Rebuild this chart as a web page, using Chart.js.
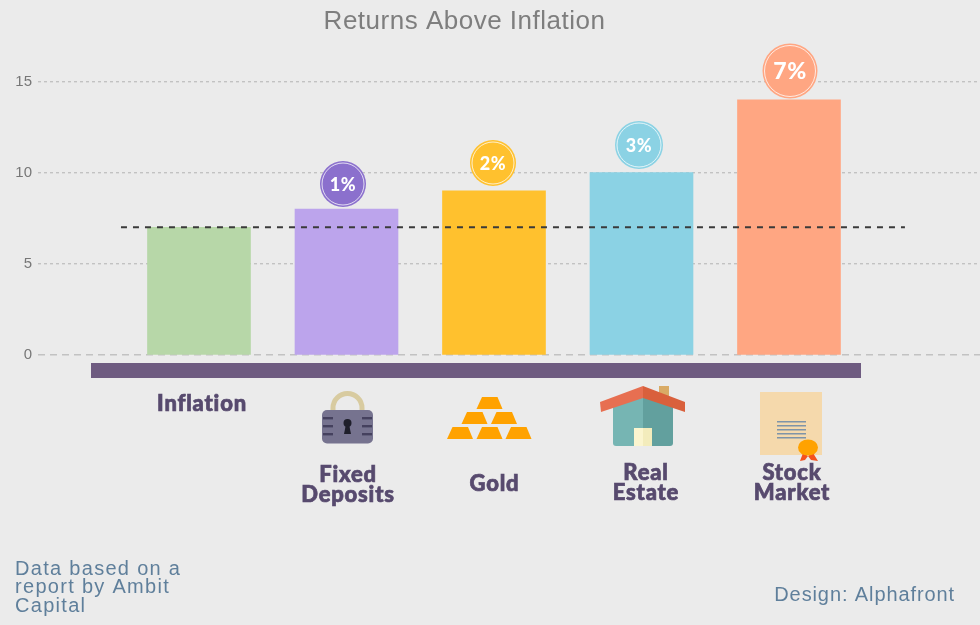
<!DOCTYPE html>
<html><head><meta charset="utf-8">
<style>html,body{margin:0;padding:0;background:#ebebeb}#w{position:relative;width:980px;height:625px}</style>
<script src="https://cdn.jsdelivr.net/npm/chart.js@4"></script></head>
<body><div id="w"><canvas id="c" width="980" height="625"></canvas></div>
<script>
const categories = ["Inflation", "Fixed Deposits", "Gold", "Real Estate", "Stock Market"];
const returnsValues = [7, 8, 9, 10, 14];
const premiumLabels = [null, "1%", "2%", "3%", "7%"];
const inflationLevel = [7, 7];
const inflationSpan = [0.471, 5.786];
const barColors = ["#b7d7a8", "#bca4ec", "#ffc12e", "#8bd2e4", "#ffa682"];
const badgeColors = [null, "#8b70cd", "#ffc12e", "#8bd2e4", "#ffa682"];
const categoryLines = [["Inflation"], ["Fixed", "Deposits"], ["Gold"], ["Real", "Estate"], ["Stock", "Market"]];
const titleText = "Returns Above Inflation";
const sourceLines = ["Data based on a", "report by Ambit", "Capital"];
const creditText = "Design: Alphafront";

function poly(c, col, pts){c.fillStyle=col;c.beginPath();pts.forEach((p,i)=>i?c.lineTo(p[0],p[1]):c.moveTo(p[0],p[1]));c.closePath();c.fill();}
function rr(c, col, x, y, w, h, r){c.fillStyle=col;c.beginPath();c.roundRect(x,y,w,h,r);c.fill();}
function lock(c){
  c.strokeStyle="#d8cba0";c.lineWidth=5;c.beginPath();c.moveTo(333,411);c.lineTo(333,408);c.arc(347.5,408,14.5,Math.PI,0);c.lineTo(362,411);c.stroke();
  rr(c,"#76738f",322,410,51,33.5,5);
  c.fillStyle="#45415e";
  [418,426,434].forEach(y=>{c.fillRect(323,y-1,10,2.4);c.fillRect(362,y-1,10,2.4);});
  c.fillStyle="#1f1f2b";c.beginPath();c.arc(347.5,423,4,0,Math.PI*2);c.fill();
  poly(c,"#1f1f2b",[[346,424],[349,424],[351,434],[344,434]]);
}
function gold(c){
  const t=(x,y)=>poly(c,"#ffa200",[[x+5.5,y],[x+21,y],[x+26,y+12],[x,y+12]]);
  t(476.5,397);t(461.5,412);t(491,412);t(447,427);t(476.5,427);t(505.5,427);
}
function house(c){
  poly(c,"#d9ab66",[[659,386],[669,386],[669,400],[659,396]]);
  rr(c,"#76b5b3",613,398,32,48,[0,0,0,3]);
  rr(c,"#62a09e",643,398,30,48,[0,0,3,0]);
  c.fillStyle="#fbf5cf";c.fillRect(634,428,9,18);
  c.fillStyle="#f3ecbc";c.fillRect(643,428,9,18);
  poly(c,"#e76f51",[[643,386],[643,398],[601,412],[600,402]]);
  poly(c,"#d9603c",[[643,386],[685,402],[685,412],[643,398]]);
}
function cert(c){
  c.fillStyle="#f5d9ac";c.fillRect(760,392,62,63);
  c.fillStyle="#7f94a8";[421,425,429,433,437].forEach(y=>c.fillRect(777,y,29,1.5));
  poly(c,"#f4511e",[[803,453],[808,456],[805,460],[800,461]]);
  poly(c,"#f4511e",[[813,453],[808,456],[811,460],[818,461]]);
  c.fillStyle="#ffa200";c.beginPath();c.ellipse(808,447.5,10,8,0,0,Math.PI*2);c.fill();
}
const labelY = [[404],[475,495],[484],[473,493],[473,493]];
const labelX = [202,348,494.5,646,792];
const badgeY = [0,184,163,145,71];
const badgeX = [0,343,493,639,790];
const badgeR = [0,23,23,24,27.5];

const decor = {
  id:"decor",
  beforeDraw(ch){
    const c=ch.ctx;c.save();c.fillStyle="#ebebeb";c.fillRect(0,0,980,625);c.restore();
  },
  afterDraw(ch){
    const c=ch.ctx;c.save();
    c.fillStyle="#6e5b80";c.fillRect(91,363,770,15);
    c.textAlign="center";c.textBaseline="middle";
    c.fillStyle="#7e7e7e";c.font='26px "Liberation Sans"';c.letterSpacing="0.5px";c.fillText(titleText,464.5,22);
    lock(c);gold(c);house(c);cert(c);
    c.fillStyle="#574a6e";c.strokeStyle="#574a6e";c.lineWidth=0.7;c.font='900 22px Lato';c.letterSpacing="0.8px";
    categoryLines.forEach((ls,i)=>ls.forEach((l,j)=>{c.fillText(l,labelX[i],labelY[i][j]);c.strokeText(l,labelX[i],labelY[i][j]);}));
    c.letterSpacing="0.5px";
    premiumLabels.forEach((t,i)=>{
      if(!t)return;
      const x=badgeX[i],y=badgeY[i],r=badgeR[i];
      c.fillStyle=badgeColors[i];c.beginPath();c.arc(x,y,r,0,Math.PI*2);c.fill();
      c.strokeStyle="rgba(255,255,255,.75)";c.lineWidth=1;c.beginPath();c.arc(x,y,r-2,0,Math.PI*2);c.stroke();
      c.fillStyle="#fff";c.font='900 '+(i===4?23:18)+'px Lato';c.fillText(t,x,y+1);
    });
    c.fillStyle="#5f7f9b";c.font='20px "Liberation Sans"';
    c.textAlign="left";c.letterSpacing="1.3px";
    sourceLines.forEach((l,i)=>c.fillText(l,15,569+i*18.5));
    c.textAlign="right";c.letterSpacing="0.9px";c.fillText(creditText,955,595.5);
    c.restore();
  }
};
new Chart(document.getElementById("c"),{
  type:"bar",
  data:{datasets:[
    {type:"line",data:inflationSpan.map((x,i)=>({x,y:inflationLevel[i]})),borderColor:"#3a3a3a",borderWidth:2,borderDash:[6,6],pointRadius:0,order:0},
    {type:"bar",data:returnsValues.map((y,i)=>({x:i+1,y})),backgroundColor:barColors,barThickness:103,order:1}
  ]},
  plugins:[decor],
  options:{
    responsive:false,animation:false,
    layout:{padding:{top:81.5,bottom:270,left:0,right:0}},
    plugins:{legend:{display:false},tooltip:{enabled:false},title:{display:false}},
    scales:{
      x:{type:"linear",display:false,offset:false,min:-0.0915,max:6.295},
      y:{min:0,max:15,
        afterFit(s){s.width=38;},
        ticks:{stepSize:5,color:"#777",font:{family:"Liberation Sans",size:15},padding:6},
        border:{display:false,dash:ctx=>ctx.tick&&ctx.tick.value===0?[7,5]:[3,3]},
        grid:{drawTicks:false,lineWidth:1.4,color:"#c2c2c2"}
      }
    }
  }
});
</script></body></html>
